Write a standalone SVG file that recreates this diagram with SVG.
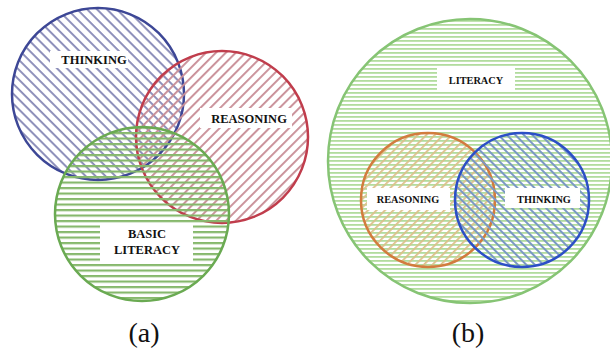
<svg xmlns="http://www.w3.org/2000/svg" width="610" height="352" viewBox="0 0 610 352">
<style>
.lbl{font-family:"Liberation Serif","Times New Roman",serif;font-weight:bold;fill:#111;text-anchor:middle}
.cap{font-family:"Liberation Serif","Times New Roman",serif;font-size:28px;fill:#111;text-anchor:middle}
.box{fill:#ffffff}
</style>
<defs>
<pattern id="hBlueA" width="7" height="7" patternUnits="userSpaceOnUse" patternTransform="rotate(45)"><rect x="0" y="0" width="7" height="1.9" fill="#8a8cb8"/></pattern>
<pattern id="hRedA" width="7" height="7" patternUnits="userSpaceOnUse" patternTransform="rotate(-45)"><rect x="0" y="0" width="7" height="1.9" fill="#c98f98"/></pattern>
<pattern id="hGreenA" width="5.5" height="5.5" patternUnits="userSpaceOnUse"><rect x="0" y="0" width="5.5" height="2.2" fill="#86b86c"/></pattern>
<pattern id="hGreenB" width="4" height="4" patternUnits="userSpaceOnUse"><rect x="0" y="0" width="4" height="1.8" fill="#b2dc9e"/></pattern>
<pattern id="hOrangeB" width="6" height="6" patternUnits="userSpaceOnUse" patternTransform="rotate(-45)"><rect x="0" y="0" width="6" height="1.8" fill="#dcc08a"/></pattern>
<pattern id="hBlueB" width="6" height="6" patternUnits="userSpaceOnUse" patternTransform="rotate(45)"><rect x="0" y="0" width="6" height="2" fill="#7a98c4"/></pattern>
</defs>
<rect width="610" height="352" fill="#ffffff"/>
<g id="thinking-a">
<circle cx="98" cy="94" r="86" fill="url(#hBlueA)" stroke="#3d4796" stroke-width="2.5"/>
</g>
<g id="reasoning-a">
<circle cx="222" cy="137" r="86" fill="url(#hRedA)" stroke="#c03d4c" stroke-width="2.5"/>
</g>
<g id="basic-literacy-a">
<circle cx="142" cy="214" r="87" fill="url(#hGreenA)" stroke="#6aaa52" stroke-width="2.5"/>
</g>
<g id="literacy-b">
<circle cx="470" cy="161" r="142" fill="url(#hGreenB)" stroke="#86c474" stroke-width="2.5"/>
</g>
<g id="reasoning-b">
<circle cx="428" cy="200" r="67" fill="url(#hOrangeB)" stroke="#d27c3e" stroke-width="2.5"/>
</g>
<g id="thinking-b">
<circle cx="522" cy="200" r="67" fill="url(#hBlueB)" stroke="#2c4fc6" stroke-width="2.5"/>
</g>
<g id="labels">
<rect class="box" x="50" y="51" width="78" height="17"/>
<text class="lbl" x="94" y="64" font-size="12.5">THINKING</text>
<rect class="box" x="200" y="108" width="92" height="20"/>
<text class="lbl" x="249" y="123" font-size="12.5">REASONING</text>
<rect class="box" x="100" y="223" width="93" height="39"/>
<text class="lbl" x="147" y="238" font-size="12.5">BASIC</text>
<text class="lbl" x="147" y="254" font-size="12.5">LITERACY</text>
<rect class="box" x="437" y="68" width="78" height="24"/>
<text class="lbl" x="476" y="84" font-size="10.3">LITERACY</text>
<rect class="box" x="367" y="188" width="83" height="22"/>
<text class="lbl" x="408" y="203" font-size="10.3">REASONING</text>
<rect class="box" x="505" y="188" width="75" height="20"/>
<text class="lbl" x="544" y="203" font-size="10.3">THINKING</text>
</g>
<g id="captions">
<text class="cap" x="144" y="342">(a)</text>
<text class="cap" x="468" y="342">(b)</text>
</g>
</svg>
